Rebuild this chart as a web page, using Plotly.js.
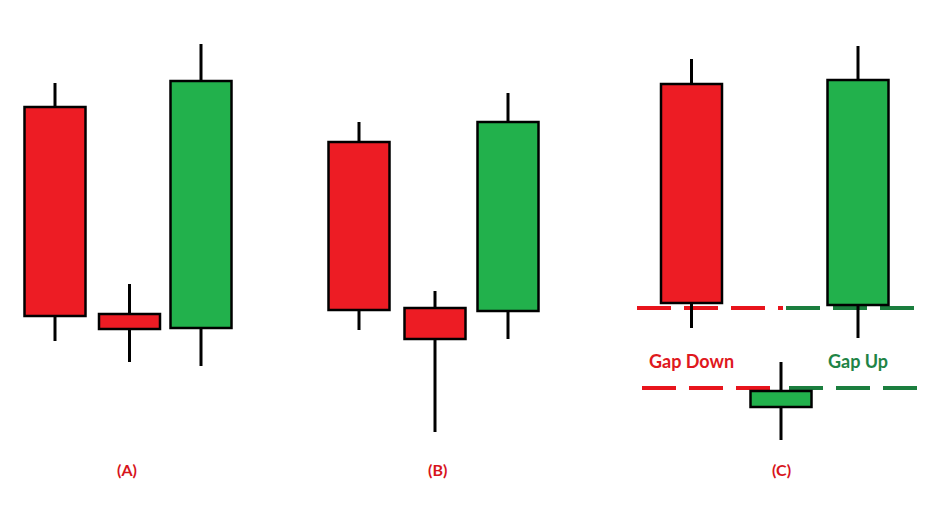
<!DOCTYPE html>
<html>
<head>
<meta charset="utf-8">
<script src="https://cdn.plot.ly/plotly-3.0.1.min.js"></script>
<style>
  html, body { margin: 0; padding: 0; background: #ffffff; }
  #chart { width: 931px; height: 519px; }
</style>
</head>
<body>
<div id="chart"></div>
<script>
// Candle positions (session index on a continuous time axis)
const candleX = [5.5, 12.95, 20.1, 35.9, 43.5, 50.8, 69.15, 78.1, 85.8];
// OHLC values
const openVals  = [78.6, 37.2, 34.4, 71.6, 38.4, 37.8, 83.2, 18.6, 39.0];
const highVals  = [83.4, 43.2, 91.2, 75.6, 41.8, 81.4, 88.2, 27.6, 90.8];
const lowVals   = [31.8, 27.6, 26.8, 34.0, 13.6, 32.2, 34.4, 12.0, 32.4];
const closeVals = [36.8, 34.2, 83.8, 38.0, 32.2, 75.6, 39.4, 21.8, 84.0];

// Pattern labels
const patternLabels = ['(A)', '(B)', '(C)'];
const patternLabelX = [12.7, 43.7, 78.1];

// Gap levels in pattern (C)
const gapLevels = [38.4, 22.4];
const gapDownRange = [[63.7, 78.3], [64.2, 77.1]];
const gapUpRange   = [[78.6, 91.5], [78.9, 91.7]];
const gapTexts = ['Gap Down', 'Gap Up'];
const gapTextX = [69.1, 85.75];
const gapTextY = 27.8;

const RED = '#ED1C24';
const GREEN = '#22B14C';
const DASH_RED = '#E8141C';
const DASH_GREEN = '#1B7E3E';

// Wicks
const wx = [], wy = [];
for (let i = 0; i < candleX.length; i++) {
  const top = Math.max(openVals[i], closeVals[i]);
  const bot = Math.min(openVals[i], closeVals[i]);
  wx.push(candleX[i], candleX[i], null, candleX[i], candleX[i], null);
  wy.push(highVals[i], top, null, bot, lowVals[i], null);
}

const wicks = {
  type: 'scatter', mode: 'lines', x: wx, y: wy,
  line: { color: '#000000', width: 3 },
  hoverinfo: 'skip', showlegend: false
};

const bodies = {
  type: 'bar',
  x: candleX,
  base: openVals.map((o, i) => Math.min(o, closeVals[i])),
  y: openVals.map((o, i) => Math.abs(closeVals[i] - o)),
  width: 6.1,
  marker: {
    color: openVals.map((o, i) => closeVals[i] >= o ? GREEN : RED),
    line: { color: '#000000', width: 2.5 }
  },
  hoverinfo: 'skip', showlegend: false
};

const shapes = [];
gapLevels.forEach((lvl, i) => {
  shapes.push({ type: 'line', xref: 'x', yref: 'y', x0: gapDownRange[i][0], x1: gapDownRange[i][1], y0: lvl, y1: lvl,
    line: { color: DASH_RED, width: 4, dash: '34px,13px' }, layer: 'below' });
  shapes.push({ type: 'line', xref: 'x', yref: 'y', x0: gapUpRange[i][0], x1: gapUpRange[i][1], y0: lvl, y1: lvl,
    line: { color: DASH_GREEN, width: 4, dash: '34px,13px' }, layer: 'below' });
});

const annotations = [];
patternLabels.forEach((t, i) => {
  annotations.push({ x: patternLabelX[i], y: 6.2, xref: 'x', yref: 'y', text: '<b>' + t + '</b>', showarrow: false,
    font: { family: 'Lato, "Open Sans", sans-serif', size: 16, color: '#D7141C' } });
});
annotations.push({ x: gapTextX[0], y: gapTextY, xref: 'x', yref: 'y', text: '<b>' + gapTexts[0] + '</b>', showarrow: false,
  font: { family: 'Lato, "Open Sans", sans-serif', size: 18, color: '#DF1820' } });
annotations.push({ x: gapTextX[1], y: gapTextY, xref: 'x', yref: 'y', text: '<b>' + gapTexts[1] + '</b>', showarrow: false,
  font: { family: 'Lato, "Open Sans", sans-serif', size: 18, color: '#1F8446' } });

const layout = {
  width: 931, height: 519,
  margin: { l: 0, r: 0, t: 0, b: 0 },
  paper_bgcolor: '#ffffff', plot_bgcolor: '#ffffff',
  xaxis: { range: [0, 93.1], visible: false, fixedrange: true },
  yaxis: { range: [-3.8, 100], visible: false, fixedrange: true },
  showlegend: false,
  shapes: shapes,
  annotations: annotations,
  bargap: 0
};

Plotly.newPlot('chart', [wicks, bodies], layout, { staticPlot: true, displayModeBar: false });
</script>
</body>
</html>
